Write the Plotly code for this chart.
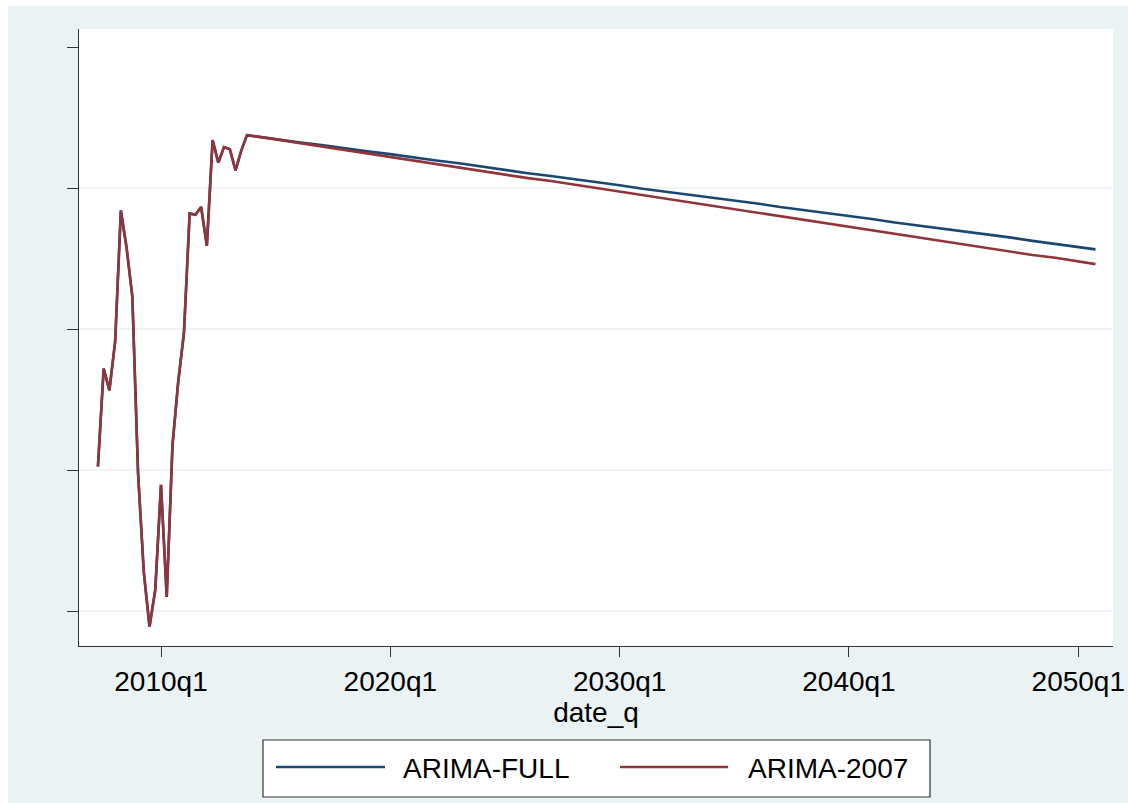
import plotly.graph_objects as go

# Observed quarterly series (shared by both models)
hist_quarters = [
    "2007q2", "2007q3", "2007q4", "2008q1", "2008q2", "2008q3", "2008q4",
    "2009q1", "2009q2", "2009q3", "2009q4", "2010q1", "2010q2", "2010q3",
    "2010q4", "2011q1", "2011q2", "2011q3", "2011q4", "2012q1", "2012q2",
    "2012q3", "2012q4", "2013q1", "2013q2", "2013q3", "2013q4",
]
hist_values = [
    0.05, 1.44, 1.13, 1.82, 3.68, 3.15, 2.46,
    -0.05, -1.45, -2.22, -1.70, -0.21, -1.80, 0.35,
    1.25, 1.94, 3.64, 3.62, 3.73, 3.18, 4.68,
    4.36, 4.58, 4.55, 4.25, 4.53, 4.75,
]

# Forecast path of each model
fc_quarters = [
    "2014q1", "2015q1", "2016q1", "2017q1", "2018q1", "2019q1", "2020q1",
    "2021q1", "2022q1", "2023q1", "2024q1", "2025q1", "2026q1", "2027q1",
    "2028q1", "2029q1", "2030q1", "2031q1", "2032q1", "2033q1", "2034q1",
    "2035q1", "2036q1", "2037q1", "2038q1", "2039q1", "2040q1", "2041q1",
    "2042q1", "2043q1", "2044q1", "2045q1", "2046q1", "2047q1", "2048q1",
    "2049q1", "2050q1", "2050q4",
]
fc_full = [
    4.74, 4.70, 4.65, 4.61, 4.56, 4.52, 4.48,
    4.43, 4.39, 4.35, 4.30, 4.26, 4.21, 4.17,
    4.13, 4.08, 4.04, 3.99, 3.95, 3.91, 3.86,
    3.82, 3.78, 3.73, 3.69, 3.65, 3.60, 3.56,
    3.51, 3.47, 3.43, 3.38, 3.34, 3.30, 3.25,
    3.21, 3.16, 3.13,
]
fc_2007 = [
    4.74, 4.69, 4.64, 4.59, 4.54, 4.49, 4.44,
    4.39, 4.34, 4.29, 4.24, 4.19, 4.14, 4.10,
    4.05, 4.00, 3.95, 3.90, 3.85, 3.80, 3.75,
    3.70, 3.65, 3.60, 3.55, 3.50, 3.45, 3.40,
    3.35, 3.30, 3.25, 3.20, 3.15, 3.10, 3.05,
    3.01, 2.96, 2.92,
]

tick_labels = ["2010q1", "2020q1", "2030q1", "2040q1", "2050q1"]
y_ticks = [-2, 0, 2, 4, 6]
y_grid = [-2, 0, 2, 4]

NAVY = "#1a476f"
MAROON = "#90353b"
BG = "#eaf2f3"
FONT = "Liberation Sans, Arial, sans-serif"


def q_index(label):
    """Stata-style quarterly index (1960q1 = 0)."""
    year, q = label.split("q")
    return (int(year) - 1960) * 4 + int(q) - 1


x_hist = [q_index(s) for s in hist_quarters]
x_fc = [q_index(s) for s in fc_quarters]

fig = go.Figure()
fig.add_trace(go.Scatter(
    x=x_hist + x_fc, y=hist_values + fc_full, mode="lines",
    name="ARIMA-FULL", line=dict(color=NAVY, width=2.6), showlegend=False,
))
fig.add_trace(go.Scatter(
    x=x_hist + x_fc, y=hist_values + fc_2007, mode="lines",
    name="ARIMA-2007", line=dict(color=MAROON, width=2.6), showlegend=False,
))

W, H = 1128, 803
L, R, T, B = 79, 15, 29, 157
pw, ph = W - L - R, H - T - B


def px_x(px):
    return (px - L) / pw


def px_y(py):
    return (H - B - py) / ph


shapes = []
# white border strips around the graph region
shapes.append(dict(type="rect", xref="paper", yref="paper", x0=px_x(-5), x1=px_x(8),
                   y0=px_y(H + 5), y1=px_y(-5), fillcolor="white", line_width=0, layer="below"))
shapes.append(dict(type="rect", xref="paper", yref="paper", x0=px_x(-5), x1=px_x(W + 5),
                   y0=px_y(6), y1=px_y(-5), fillcolor="white", line_width=0, layer="below"))
# horizontal gridlines
for g in y_grid:
    shapes.append(dict(type="line", xref="paper", yref="y", x0=0, x1=1, y0=g, y1=g,
                       line=dict(color=BG, width=1.6), layer="below"))
# legend box and keys
shapes.append(dict(type="rect", xref="paper", yref="paper", x0=px_x(263), x1=px_x(930),
                   y0=px_y(797), y1=px_y(740), fillcolor="white",
                   line=dict(color="#333333", width=1.2)))
shapes.append(dict(type="line", xref="paper", yref="paper", x0=px_x(276), x1=px_x(385),
                   y0=px_y(767), y1=px_y(767), line=dict(color=NAVY, width=2.6)))
shapes.append(dict(type="line", xref="paper", yref="paper", x0=px_x(620), x1=px_x(728),
                   y0=px_y(767), y1=px_y(767), line=dict(color=MAROON, width=2.6)))

annotations = [
    dict(text="ARIMA-FULL", xref="paper", yref="paper", x=px_x(401), y=px_y(768),
         xanchor="left", yanchor="middle", showarrow=False,
         font=dict(family=FONT, size=28, color="black")),
    dict(text="ARIMA-2007", xref="paper", yref="paper", x=px_x(746), y=px_y(768),
         xanchor="left", yanchor="middle", showarrow=False,
         font=dict(family=FONT, size=28, color="black")),
]

x0 = q_index("2010q1")
fig.update_layout(
    width=W, height=H, autosize=False,
    margin=dict(l=L, r=R, t=T, b=B, pad=0, autoexpand=False),
    paper_bgcolor=BG, plot_bgcolor="white",
    font=dict(family=FONT, size=28, color="black"),
    shapes=shapes, annotations=annotations,
    showlegend=False,
    xaxis=dict(
        range=[x0 + (L - 161) / 5.733, x0 + (W - R - 161) / 5.733],
        tickvals=[q_index(t) for t in tick_labels], ticktext=tick_labels,
        ticks="outside", ticklen=10, tickwidth=1.4, tickcolor="#333333",
        showline=True, linecolor="#333333", linewidth=1.4,
        showgrid=False, zeroline=False, automargin=False,
        tickfont=dict(family=FONT, size=28),
        title=dict(text="date_q", font=dict(family=FONT, size=28), standoff=2),
    ),
    yaxis=dict(
        range=[(470 - 646) / 70.5, (470 - 29) / 70.5],
        tickvals=y_ticks, showticklabels=False,
        ticks="outside", ticklen=11, tickwidth=1.4, tickcolor="#333333",
        showline=True, linecolor="#333333", linewidth=1.4,
        showgrid=False, zeroline=False, automargin=False,
    ),
)

fig.write_html("out.html")
